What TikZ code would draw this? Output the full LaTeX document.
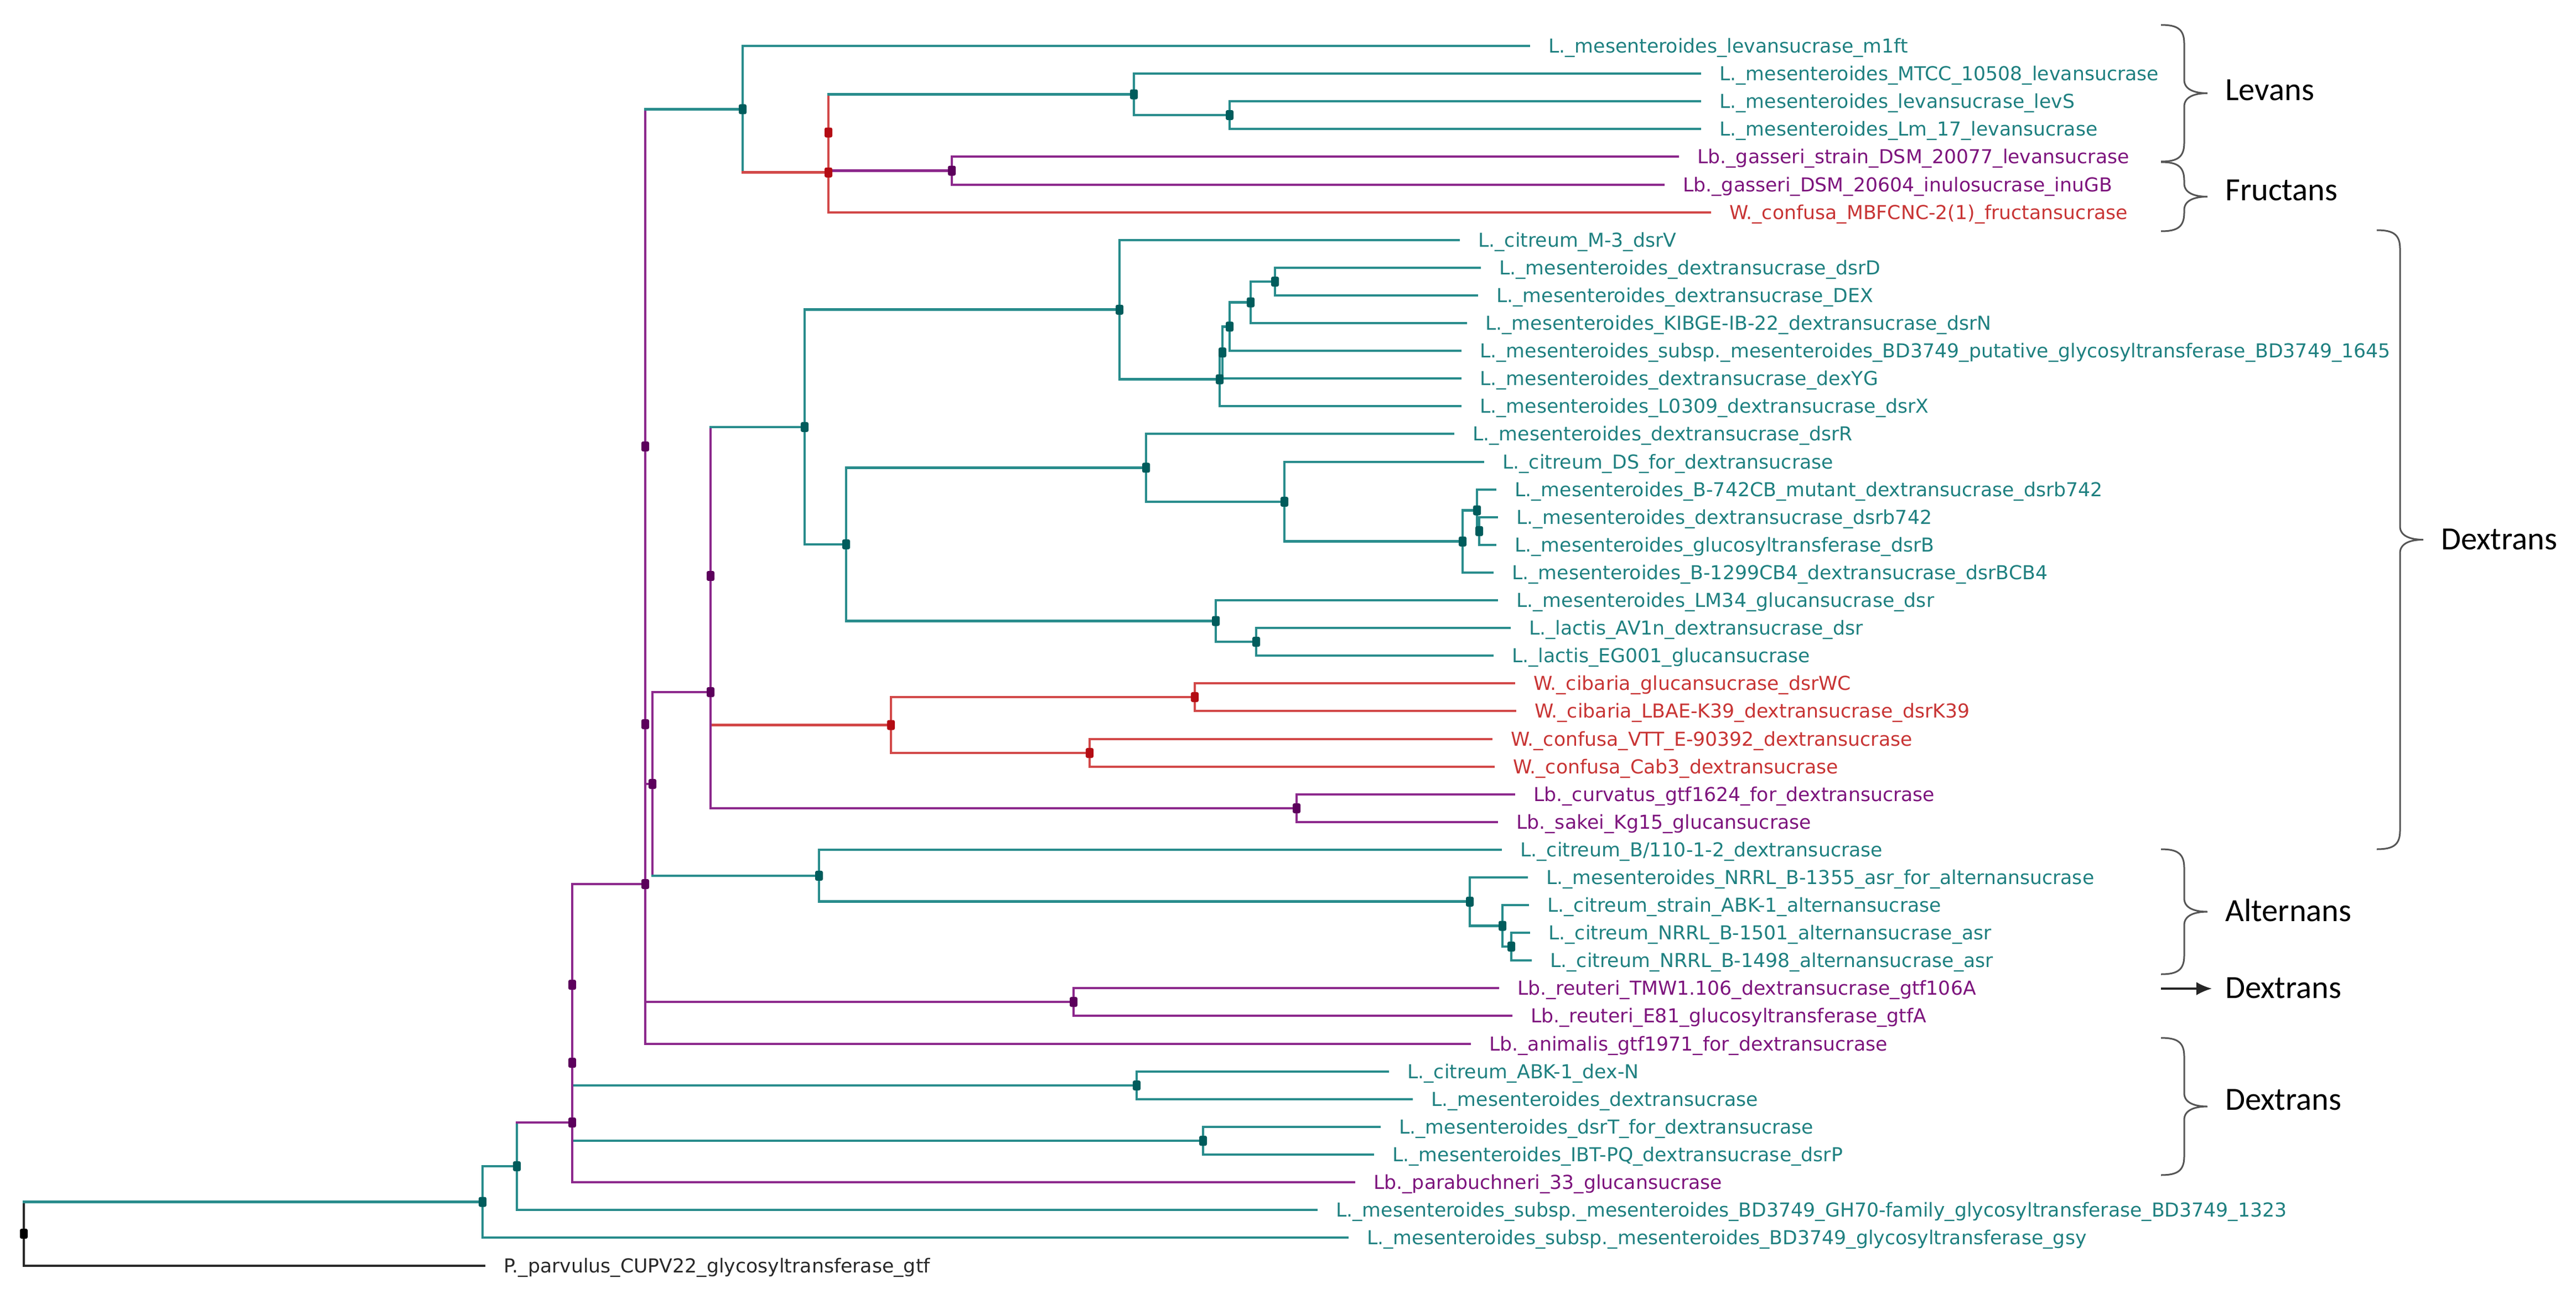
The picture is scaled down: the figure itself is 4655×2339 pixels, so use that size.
\documentclass[tikz,border=0pt]{standalone}
\usepackage{fontspec}
\newfontfamily\leaffont{DejaVu Sans}
\newfontfamily\grpfont{Carlito}
\usetikzlibrary{arrows.meta}
\pgfdeclarelayer{bg}
\pgfsetlayers{bg,main}
\definecolor{tl}{RGB}{40,140,140}
\definecolor{tn}{RGB}{0,92,92}
\definecolor{tt}{RGB}{30,128,128}
\definecolor{pl}{RGB}{140,40,140}
\definecolor{pn}{RGB}{92,0,92}
\definecolor{ptx}{RGB}{125,20,125}
\definecolor{rl}{RGB}{210,72,72}
\definecolor{rn}{RGB}{180,12,20}
\definecolor{rt}{RGB}{200,52,52}
\definecolor{kl}{RGB}{40,40,40}
\definecolor{brc}{RGB}{85,85,85}
\tikzset{
  hl/.style={line width=4.8pt, line cap=rect},
  vl/.style={line width=3.8pt},
  mk/.style={rectangle, rounded corners=3pt, minimum width=14pt, minimum height=18pt, inner sep=0pt},
  leaf/.style={anchor=west, inner sep=0pt, text height=25.3pt, text depth=0pt, font=\leaffont\fontsize{34.7}{36}\selectfont},
  grp/.style={anchor=base west, inner sep=0pt, font=\grpfont\fontsize{58.5}{60}\selectfont},
  bracestyle/.style={brc, line width=3pt},
  arrowstyle/.style={black!85, line width=3.5pt}
}
% vertical bar of a parent between two children
\newcommand{\vb}[4]{\draw[vl,#4] (#1 |- #2) -- (#1 |- #3);}
% horizontal branch to an internal node
\newcommand{\hb}[3]{\draw[hl,#3] (#1 |- #2) -- (#2.center);}
% horizontal branch to a leaf label
\newcommand{\lb}[3]{\draw[hl,#3,shorten >=35pt] (#1 |- #2.west) -- (#2.west);}
\newcommand{\curly}[3]{%
 \pgfmathsetmacro\ymid{(#2+#3)/2}%
 \draw[bracestyle] (#1,#2) .. controls ({#1+30},#2) and ({#1+42},{#2+8}) .. ({#1+42},{#2+34})
  -- ({#1+42},{\ymid-24}) .. controls ({#1+42},{\ymid-6}) and ({#1+62},\ymid) .. ({#1+84},\ymid)
  .. controls ({#1+62},\ymid) and ({#1+42},{\ymid+6}) .. ({#1+42},{\ymid+24})
  -- ({#1+42},{#3-34}) .. controls ({#1+42},{#3-8}) and ({#1+30},#3) .. (#1,#3);}
\begin{document}
\begin{tikzpicture}[x=1pt,y=-1pt]
\useasboundingbox (0,0) rectangle (4655,2339);
% ---------------- leaves ----------------
\node[leaf,text=tt] (L0) at (2798,83) {L.\_mesenteroides\_levansucrase\_m1ft};
\node[leaf,text=tt] (L1) at (3107,133) {L.\_mesenteroides\_MTCC\_10508\_levansucrase};
\node[leaf,text=tt] (L2) at (3107,183) {L.\_mesenteroides\_levansucrase\_levS};
\node[leaf,text=tt] (L3) at (3107,233) {L.\_mesenteroides\_Lm\_17\_levansucrase};
\node[leaf,text=ptx] (L4) at (3067,283) {Lb.\_gasseri\_strain\_DSM\_20077\_levansucrase};
\node[leaf,text=ptx] (L5) at (3041,334) {Lb.\_gasseri\_DSM\_20604\_inulosucrase\_inuGB};
\node[leaf,text=rt] (L6) at (3125,384) {W.\_confusa\_MBFCNC-2(1)\_fructansucrase};
\node[leaf,text=tt] (L7) at (2671,434) {L.\_citreum\_M-3\_dsrV};
\node[leaf,text=tt] (L8) at (2709,484) {L.\_mesenteroides\_dextransucrase\_dsrD};
\node[leaf,text=tt] (L9) at (2704,534) {L.\_mesenteroides\_dextransucrase\_DEX};
\node[leaf,text=tt] (L10) at (2684,584) {L.\_mesenteroides\_KIBGE-IB-22\_dextransucrase\_dsrN};
\node[leaf,text=tt] (L11) at (2674,634) {L.\_mesenteroides\_subsp.\_mesenteroides\_BD3749\_putative\_glycosyltransferase\_BD3749\_1645};
\node[leaf,text=tt] (L12) at (2674,684) {L.\_mesenteroides\_dextransucrase\_dexYG};
\node[leaf,text=tt] (L13) at (2674,734) {L.\_mesenteroides\_L0309\_dextransucrase\_dsrX};
\node[leaf,text=tt] (L14) at (2661,784) {L.\_mesenteroides\_dextransucrase\_dsrR};
\node[leaf,text=tt] (L15) at (2715,835) {L.\_citreum\_DS\_for\_dextransucrase};
\node[leaf,text=tt] (L16) at (2737,885) {L.\_mesenteroides\_B-742CB\_mutant\_dextransucrase\_dsrb742};
\node[leaf,text=tt] (L17) at (2740,935) {L.\_mesenteroides\_dextransucrase\_dsrb742};
\node[leaf,text=tt] (L18) at (2737,985) {L.\_mesenteroides\_glucosyltransferase\_dsrB};
\node[leaf,text=tt] (L19) at (2732,1035) {L.\_mesenteroides\_B-1299CB4\_dextransucrase\_dsrBCB4};
\node[leaf,text=tt] (L20) at (2740,1085) {L.\_mesenteroides\_LM34\_glucansucrase\_dsr};
\node[leaf,text=tt] (L21) at (2763,1135) {L.\_lactis\_AV1n\_dextransucrase\_dsr};
\node[leaf,text=tt] (L22) at (2732,1185) {L.\_lactis\_EG001\_glucansucrase};
\node[leaf,text=rt] (L23) at (2771,1235) {W.\_cibaria\_glucansucrase\_dsrWC};
\node[leaf,text=rt] (L24) at (2773,1285) {W.\_cibaria\_LBAE-K39\_dextransucrase\_dsrK39};
\node[leaf,text=rt] (L25) at (2730,1336) {W.\_confusa\_VTT\_E-90392\_dextransucrase};
\node[leaf,text=rt] (L26) at (2734,1386) {W.\_confusa\_Cab3\_dextransucrase};
\node[leaf,text=ptx] (L27) at (2771,1436) {Lb.\_curvatus\_gtf1624\_for\_dextransucrase};
\node[leaf,text=ptx] (L28) at (2740,1486) {Lb.\_sakei\_Kg15\_glucansucrase};
\node[leaf,text=tt] (L29) at (2747,1536) {L.\_citreum\_B/110-1-2\_dextransucrase};
\node[leaf,text=tt] (L30) at (2794,1586) {L.\_mesenteroides\_NRRL\_B-1355\_asr\_for\_alternansucrase};
\node[leaf,text=tt] (L31) at (2796,1636) {L.\_citreum\_strain\_ABK-1\_alternansucrase};
\node[leaf,text=tt] (L32) at (2798,1686) {L.\_citreum\_NRRL\_B-1501\_alternansucrase\_asr};
\node[leaf,text=tt] (L33) at (2801,1736) {L.\_citreum\_NRRL\_B-1498\_alternansucrase\_asr};
\node[leaf,text=ptx] (L34) at (2742,1786) {Lb.\_reuteri\_TMW1.106\_dextransucrase\_gtf106A};
\node[leaf,text=ptx] (L35) at (2766,1836) {Lb.\_reuteri\_E81\_glucosyltransferase\_gtfA};
\node[leaf,text=ptx] (L36) at (2691,1887) {Lb.\_animalis\_gtf1971\_for\_dextransucrase};
\node[leaf,text=tt] (L37) at (2543,1937) {L.\_citreum\_ABK-1\_dex-N};
\node[leaf,text=tt] (L38) at (2586,1987) {L.\_mesenteroides\_dextransucrase};
\node[leaf,text=tt] (L39) at (2528,2037) {L.\_mesenteroides\_dsrT\_for\_dextransucrase};
\node[leaf,text=tt] (L40) at (2516,2087) {L.\_mesenteroides\_IBT-PQ\_dextransucrase\_dsrP};
\node[leaf,text=ptx] (L41) at (2482,2137) {Lb.\_parabuchneri\_33\_glucansucrase};
\node[leaf,text=tt] (L42) at (2414,2187) {L.\_mesenteroides\_subsp.\_mesenteroides\_BD3749\_GH70-family\_glycosyltransferase\_BD3749\_1323};
\node[leaf,text=tt] (L43) at (2470,2237) {L.\_mesenteroides\_subsp.\_mesenteroides\_BD3749\_glycosyltransferase\_gsy};
\node[leaf,text=kl] (L44) at (910,2288) {P.\_parvulus\_CUPV22\_glycosyltransferase\_gtf};
% ---------------- internal nodes ----------------
\node[mk,fill=tn] (nLev2) at (2222,208) {};
\node[mk,fill=tn] (nLev1) at (2049,170.5) {};
\node[mk,fill=pn] (nGas) at (1720,308.5) {};
\node[mk,fill=rn] (nFA) at (1497,239.5) {};
\node[mk,fill=rn] (nFB) at (1497,311.75) {};
\node[mk,fill=tn] (nLevR) at (1342,197.4) {};
\node[mk,fill=tn] (d1) at (2304,509) {};
\node[mk,fill=tn] (d2) at (2260,546.5) {};
\node[mk,fill=tn] (d3) at (2222,590.3) {};
\node[mk,fill=tn] (d4) at (2209,637.1) {};
\node[mk,fill=tn] (d5) at (2204,685.6) {};
\node[mk,fill=tn] (d6) at (2023,559.8) {};
\node[mk,fill=tn] (e1) at (2673,960) {};
\node[mk,fill=tn] (e2) at (2669,922.5) {};
\node[mk,fill=tn] (e3) at (2643,978.8) {};
\node[mk,fill=tn] (e4) at (2321,906.9) {};
\node[mk,fill=tn] (e5) at (2071,845.4) {};
\node[mk,fill=tn] (f1) at (2270,1160) {};
\node[mk,fill=tn] (f2) at (2197,1122.5) {};
\node[mk,fill=tn] (g1) at (1529,983.9) {};
\node[mk,fill=tn] (g2) at (1454,771.9) {};
\node[mk,fill=rn] (r1) at (2159,1260) {};
\node[mk,fill=rn] (r2) at (1969,1361) {};
\node[mk,fill=rn] (r3) at (1610,1310.5) {};
\node[mk,fill=pn] (p1) at (1284,1041) {};
\node[mk,fill=pn] (c1) at (2343,1461) {};
\node[mk,fill=pn] (p2) at (1284,1251) {};
\node[mk,fill=tn] (a1) at (2731,1711) {};
\node[mk,fill=tn] (a2) at (2715,1673.5) {};
\node[mk,fill=tn] (a3) at (2656,1629.8) {};
\node[mk,fill=tn] (a4) at (1480,1582.9) {};
\node[mk,fill=pn] (p3) at (1179,1417) {};
\node[mk,fill=pn] (q1) at (1166,807) {};
\node[mk,fill=pn] (reu) at (1940,1811) {};
\node[mk,fill=pn] (q2) at (1166,1309) {};
\node[mk,fill=pn] (q3) at (1166,1598) {};
\node[mk,fill=tn] (x1) at (2054,1962) {};
\node[mk,fill=tn] (x2) at (2174,2062) {};
\node[mk,fill=pn] (s1) at (1034,1780) {};
\node[mk,fill=pn] (s2) at (1034,1921) {};
\node[mk,fill=pn] (s3) at (1034,2029) {};
\node[mk,fill=tn] (t1) at (934,2108) {};
\node[mk,fill=tn] (t2) at (872,2172.5) {};
\node[mk,fill=black] (root) at (43,2230) {};
% ---------------- branches ----------------
\begin{pgfonlayer}{bg}
\vb{nLev2}{L2}{L3}{tl} \lb{nLev2}{L2}{tl} \lb{nLev2}{L3}{tl}
\vb{nLev1}{L1}{nLev2}{tl} \lb{nLev1}{L1}{tl} \hb{nLev1}{nLev2}{tl}
\vb{nGas}{L4}{L5}{pl} \lb{nGas}{L4}{pl} \lb{nGas}{L5}{pl}
\vb{nFA}{nLev1}{nGas}{rl} \hb{nFA}{nLev1}{tl} \hb{nFA}{nGas}{pl}
\vb{nFB}{nFA}{L6}{rl} \lb{nFB}{L6}{rl}
\vb{nLevR}{L0}{nFB}{tl} \lb{nLevR}{L0}{tl} \hb{nLevR}{nFB}{rl}
\vb{d1}{L8}{L9}{tl} \lb{d1}{L8}{tl} \lb{d1}{L9}{tl}
\vb{d2}{d1}{L10}{tl} \hb{d2}{d1}{tl} \lb{d2}{L10}{tl}
\vb{d3}{d2}{L11}{tl} \hb{d3}{d2}{tl} \lb{d3}{L11}{tl}
\vb{d4}{d3}{L12}{tl} \hb{d4}{d3}{tl} \lb{d4}{L12}{tl}
\vb{d5}{d4}{L13}{tl} \hb{d5}{d4}{tl} \lb{d5}{L13}{tl}
\vb{d6}{L7}{d5}{tl} \lb{d6}{L7}{tl} \hb{d6}{d5}{tl}
\vb{e1}{L17}{L18}{tl} \lb{e1}{L17}{tl} \lb{e1}{L18}{tl}
\vb{e2}{L16}{e1}{tl} \lb{e2}{L16}{tl} \hb{e2}{e1}{tl}
\vb{e3}{e2}{L19}{tl} \hb{e3}{e2}{tl} \lb{e3}{L19}{tl}
\vb{e4}{L15}{e3}{tl} \lb{e4}{L15}{tl} \hb{e4}{e3}{tl}
\vb{e5}{L14}{e4}{tl} \lb{e5}{L14}{tl} \hb{e5}{e4}{tl}
\vb{f1}{L21}{L22}{tl} \lb{f1}{L21}{tl} \lb{f1}{L22}{tl}
\vb{f2}{L20}{f1}{tl} \lb{f2}{L20}{tl} \hb{f2}{f1}{tl}
\vb{g1}{e5}{f2}{tl} \hb{g1}{e5}{tl} \hb{g1}{f2}{tl}
\vb{g2}{d6}{g1}{tl} \hb{g2}{d6}{tl} \hb{g2}{g1}{tl}
\vb{r1}{L23}{L24}{rl} \lb{r1}{L23}{rl} \lb{r1}{L24}{rl}
\vb{r2}{L25}{L26}{rl} \lb{r2}{L25}{rl} \lb{r2}{L26}{rl}
\vb{r3}{r1}{r2}{rl} \hb{r3}{r1}{rl} \hb{r3}{r2}{rl}
\vb{p1}{g2}{r3}{pl} \hb{p1}{g2}{tl} \hb{p1}{r3}{rl}
\vb{c1}{L27}{L28}{pl} \lb{c1}{L27}{pl} \lb{c1}{L28}{pl}
\vb{p2}{p1}{c1}{pl} \hb{p2}{c1}{pl}
\vb{a1}{L32}{L33}{tl} \lb{a1}{L32}{tl} \lb{a1}{L33}{tl}
\vb{a2}{L31}{a1}{tl} \lb{a2}{L31}{tl} \hb{a2}{a1}{tl}
\vb{a3}{L30}{a2}{tl} \lb{a3}{L30}{tl} \hb{a3}{a2}{tl}
\vb{a4}{L29}{a3}{tl} \lb{a4}{L29}{tl} \hb{a4}{a3}{tl}
\vb{p3}{p2}{a4}{pl} \hb{p3}{p2}{pl} \hb{p3}{a4}{tl}
\vb{q1}{nLevR}{p3}{pl} \hb{q1}{nLevR}{tl} \hb{q1}{p3}{pl}
\vb{reu}{L34}{L35}{pl} \lb{reu}{L34}{pl} \lb{reu}{L35}{pl}
\vb{q2}{q1}{reu}{pl} \hb{q2}{reu}{pl}
\vb{q3}{q2}{L36}{pl} \lb{q3}{L36}{pl}
\vb{x1}{L37}{L38}{tl} \lb{x1}{L37}{tl} \lb{x1}{L38}{tl}
\vb{x2}{L39}{L40}{tl} \lb{x2}{L39}{tl} \lb{x2}{L40}{tl}
\vb{s1}{q3}{x1}{pl} \hb{s1}{q3}{pl} \hb{s1}{x1}{tl}
\vb{s2}{s1}{x2}{pl} \hb{s2}{x2}{tl}
\vb{s3}{s2}{L41}{pl} \lb{s3}{L41}{pl}
\vb{t1}{s3}{L42}{tl} \hb{t1}{s3}{pl} \lb{t1}{L42}{tl}
\vb{t2}{t1}{L43}{tl} \hb{t2}{t1}{tl} \lb{t2}{L43}{tl}
\vb{root}{t2}{L44}{kl} \hb{root}{t2}{tl} \lb{root}{L44}{kl}
\end{pgfonlayer}
% ---------------- group labels ----------------
\node[grp] (gLev) at (4021,182) {Levans};
\node[grp] (gFru) at (4021,362) {Fructans};
\node[grp] (gDex1) at (4411,993) {Dextrans};
\node[grp] (gAlt) at (4021,1665) {Alternans};
\node[grp] (gDex2) at (4021,1804) {Dextrans};
\node[grp] (gDex3) at (4021,2006) {Dextrans};
\curly{3905}{45}{292}
\curly{3905}{293}{418}
\curly{4295}{416}{1535}
\curly{3905}{1535}{1761}
\curly{3905}{1876}{2124}
\coordinate (arS) at (3905,1787);
\draw[arrowstyle,-{Latex[length=28pt,width=24pt]},shorten >=24pt] (arS) -- (arS -| gDex2.west);
\end{tikzpicture}
\end{document}
